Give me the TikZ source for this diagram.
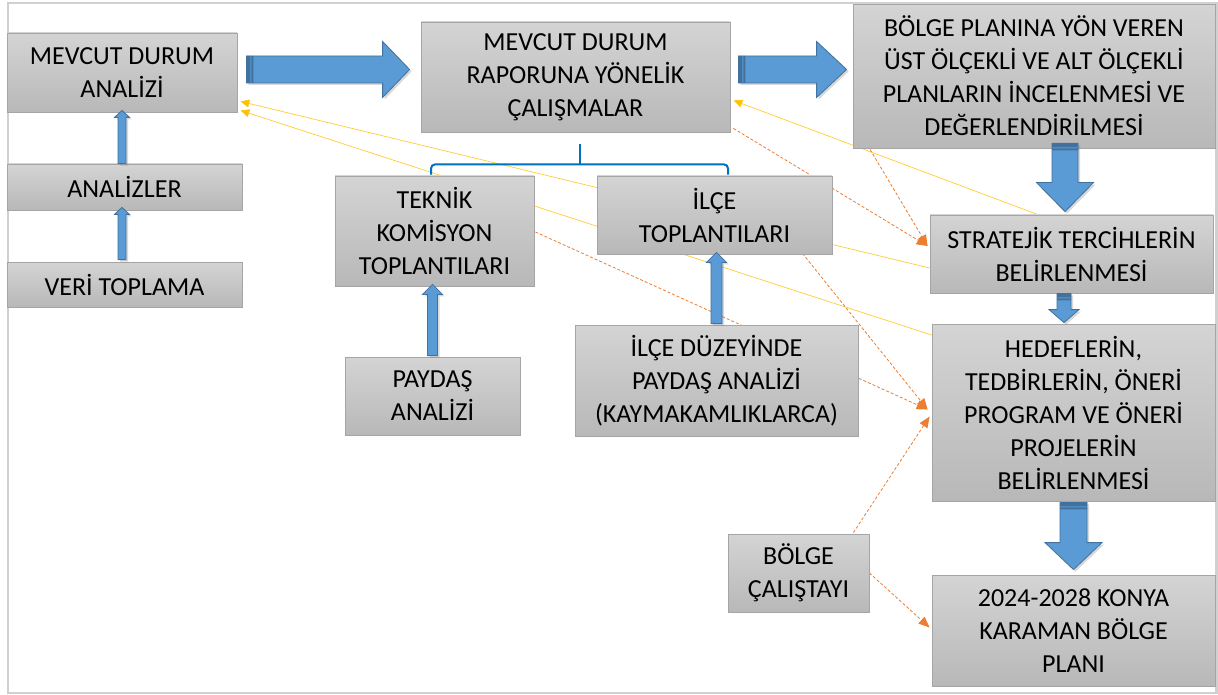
\documentclass[tikz,border=0pt]{standalone}
\usepackage{fontspec}
\setmainfont{Carlito}
\usetikzlibrary{arrows.meta,calc,shadows}
\definecolor{boxtop}{HTML}{D4D4D4}
\definecolor{boxbot}{HTML}{B8B8B8}
\definecolor{boxline}{HTML}{A5A5A5}
\definecolor{blkfill}{HTML}{5B9BD5}
\definecolor{blkline}{HTML}{41719C}
\definecolor{ylw}{HTML}{FFC000}
\definecolor{org}{HTML}{ED7D31}
\definecolor{brc}{HTML}{0070C0}
\definecolor{frm}{HTML}{D0D0D0}
\pgfdeclarelayer{bg}
\pgfsetlayers{bg,main}
\tikzset{
  box/.style={draw=boxline, line width=0.8pt, top color=boxtop, bottom color=boxbot,
    align=center, inner sep=0pt, font=\fontsize{26}{33}\selectfont, text=black},
  blk/.style={fill=blkfill, draw=blkline, line width=0.8pt,
    drop shadow={opacity=0.3, shadow xshift=2pt, shadow yshift=-2pt}},
  ylwline/.style={draw=ylw, line width=0.7pt, draw opacity=0.8,
    -{Triangle[length=9pt,width=8pt,fill=ylw]}},
  orgline/.style={draw=org, line width=0.8pt, dash pattern=on 3pt off 2pt,
    -{Triangle[length=11pt,width=9pt,fill=org]}},
  brace/.style={draw=brc, line width=2pt}
}
% vertical up block arrow: #1 tail, #2 tip, #3 shaft half, #4 head half, #5 head length
\newcommand\blkup[5]{%
  \path[blk] let \p1=(#1), \p2=(#2) in
    (\x1-#3,\y1) -- (\x1-#3,\y2-#5) -- (\x1-#4,\y2-#5) -- (\x1,\y2)
    -- (\x1+#4,\y2-#5) -- (\x1+#3,\y2-#5) -- (\x1+#3,\y1) -- cycle;}
% vertical down striped block arrow
\newcommand\blkdown[5]{%
  \path[blk] let \p1=(#1), \p2=(#2) in
    (\x1-#3,\y1) -- (\x1+#3,\y1) -- (\x1+#3,\y2+#5) -- (\x1+#4,\y2+#5) -- (\x1,\y2)
    -- (\x1-#4,\y2+#5) -- (\x1-#3,\y2+#5) -- cycle;
  \fill[blkline] let \p1=(#1) in (\x1-#3,\y1) rectangle (\x1+#3,\y1-4pt)
    (\x1-#3,\y1-5pt) rectangle (\x1+#3,\y1-7pt);}
% horizontal right striped block arrow
\newcommand\blkright[5]{%
  \path[blk] let \p1=(#1), \p2=(#2) in
    (\x1,\y1+#3) -- (\x2-#5,\y1+#3) -- (\x2-#5,\y1+#4) -- (\x2,\y1)
    -- (\x2-#5,\y1-#4) -- (\x2-#5,\y1-#3) -- (\x1,\y1-#3) -- cycle;
  \fill[blkline] let \p1=(#1) in (\x1,\y1-#3) rectangle (\x1+4pt,\y1+#3)
    (\x1+5pt,\y1-#3) rectangle (\x1+7pt,\y1+#3);}
\begin{document}
\begin{tikzpicture}[x=1pt,y=-1pt]
\useasboundingbox (0,0) rectangle (1218,695);
\begin{pgfonlayer}{bg}
  \fill[white] (0,0) rectangle (1218,695);
  \draw[frm, line width=2.5pt] (8,3) rectangle (1216.5,693);
\end{pgfonlayer}

% boxes
\node[box, minimum width=230pt, minimum height=79pt] (mda) at (122,72.5) {MEVCUT DURUM\\ANALİZİ};
\node[box, minimum width=235pt, minimum height=46pt] (ana) at (124.5,187) {ANALİZLER};
\node[box, minimum width=235pt, minimum height=45pt] (veri) at (124.5,284.5) {VERİ TOPLAMA};
\node[box, minimum width=309pt, minimum height=110pt] (mdr) at (575.5,77) {MEVCUT DURUM\\RAPORUNA YÖNELİK\\ÇALIŞMALAR};
\node[box, minimum width=199pt, minimum height=110pt] (tek) at (434.5,231) {TEKNİK\\KOMİSYON\\TOPLANTILARI};
\node[box, minimum width=235pt, minimum height=78pt] (ilt) at (714.5,215) {İLÇE\\TOPLANTILARI};
\node[box, minimum width=175pt, minimum height=78pt] (pay) at (432.5,396) {PAYDAŞ\\ANALİZİ};
\node[box, minimum width=283pt, minimum height=111pt] (idp) at (716.5,380.5) {İLÇE DÜZEYİNDE\\PAYDAŞ ANALİZİ\\(KAYMAKAMLIKLARCA)};
\node[box, minimum width=362pt, minimum height=144pt] (bpl) at (1034,76) {BÖLGE PLANINA YÖN VEREN\\ÜST ÖLÇEKLİ VE ALT ÖLÇEKLİ\\PLANLARIN İNCELENMESİ VE\\DEĞERLENDİRİLMESİ};
\node[box, minimum width=283pt, minimum height=78pt] (str) at (1071.5,254) {STRATEJİK TERCİHLERİN\\BELİRLENMESİ};
\node[box, minimum width=283pt, minimum height=177pt] (hed) at (1073.5,412.5) {HEDEFLERİN,\\TEDBİRLERİN, ÖNERİ\\PROGRAM VE ÖNERİ\\PROJELERİN\\BELİRLENMESİ};
\node[box, minimum width=141pt, minimum height=78pt] (cal) at (798.5,573) {BÖLGE\\ÇALIŞTAYI};
\node[box, minimum width=283pt, minimum height=111pt] (pln) at (1073.5,630.5) {2024-2028 KONYA\\KARAMAN BÖLGE\\PLANI};

% thin connectors (behind boxes)
\begin{pgfonlayer}{bg}
  \draw[ylwline] ($(str.west)+(0,14)$) -- ($(mda.south east)+(3,-11)$);
  \draw[ylwline] ($(hed.west)+(0,-77.5)$) -- ($(mda.south east)+(3,-2)$);
  \draw[ylwline] ($(str.north)+(-33.5,0)$) -- ($(mdr.south east)+(3,-32)$);
  \draw[orgline] ($(mdr.south east)+(3,-4)$) -- ($(str.west)+(-2,-8)$);
  \draw[orgline] ($(bpl.south west)+(15,-3)$) -- ($(str.west)+(-2,-8)$);
  \draw[orgline] ($(tek.east)+(1,1)$) -- ($(hed.west)+(-4,-3)$);
  \draw[orgline] ($(ilt.south east)+(-30,-1)$) -- ($(hed.west)+(-4,-3)$);
  \draw[orgline] ($(cal.north east)+(-16,-1)$) -- ($(hed.west)+(-2,4)$);
  \draw[orgline] (cal.east) -- ($(pln.west)+(-2,-3)$);
\end{pgfonlayer}

% bracket
\coordinate (bc) at ($(mdr.south)+(4.5,32)$);
\draw[brace, rounded corners=4pt] ($(tek.north)+(-3.5,-1)$) |- (bc) -| ($(ilt.north)+(13.5,-1)$);
\draw[brace] (bc) -- ($(mdr.south)+(4.5,12)$);

% block arrows
\blkright{$(mda.east)+(9,-3)$}{$(mdr.west)+(-11,0)$}{13.5pt}{28pt}{27pt}
\blkright{$(mdr.east)+(8,-7.5)$}{$(bpl.west)+(-6,0)$}{13.5pt}{28pt}{30pt}
\blkdown{$(bpl.south)+(31,-5)$}{$(str.north)+(0,-3)$}{13pt}{28.5pt}{29pt}
\blkdown{$(str.south)+(-7.5,0)$}{$(hed.north)+(0,-1)$}{7pt}{15pt}{13pt}
\blkdown{$(hed.south)+(0,1)$}{$(pln.north)+(0,-5)$}{13.5pt}{28.5pt}{27pt}
\blkup{$(ana.north)+(-2.5,0)$}{$(mda.south)+(0,-2)$}{4pt}{7.5pt}{7pt}
\blkup{$(veri.north)+(-2.5,-2)$}{$(ana.south)+(0,-3)$}{4pt}{7.5pt}{7pt}
\blkup{$(pay.north)+(0,-1)$}{$(tek.south)+(0,-2)$}{5pt}{10pt}{10pt}
\blkup{$(idp.north)+(0,-1)$}{$(ilt.south)+(0,-2)$}{5.5pt}{10pt}{10pt}
\end{tikzpicture}
\end{document}
